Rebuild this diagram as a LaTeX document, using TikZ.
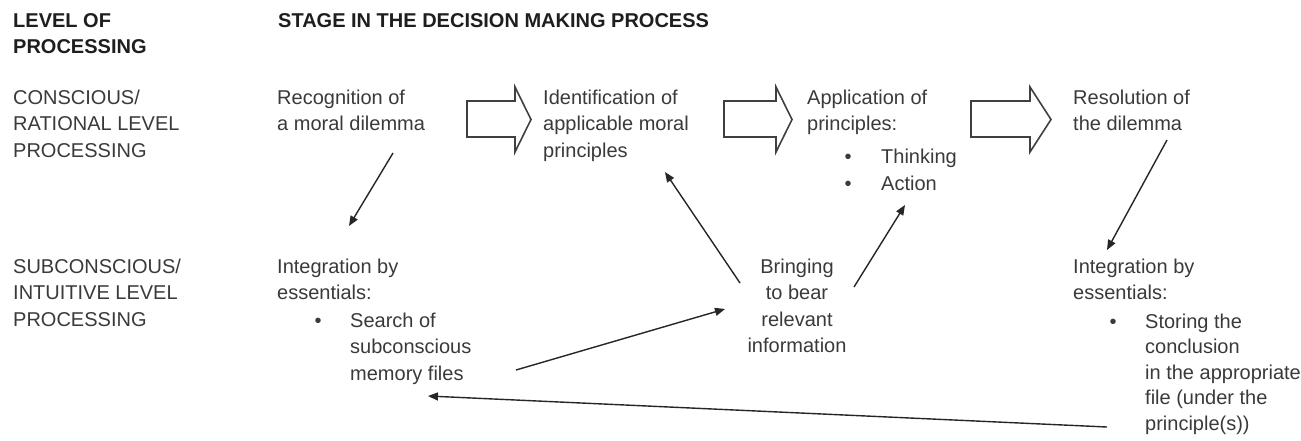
\documentclass[tikz,border=0pt]{standalone}
\usepackage{fontspec}
\setmainfont{Liberation Sans}
\usetikzlibrary{arrows.meta}
\definecolor{txtgray}{HTML}{3A3A3A}
\definecolor{hdr}{HTML}{1E1E1E}
\newcommand{\fsz}{\fontsize{20}{26.5}\selectfont}
\newcommand{\stt}{\rule{0pt}{16pt}}
\begin{document}
\begin{tikzpicture}[x=1pt,y=-1pt,
  txt/.style={anchor=north west, inner sep=0pt, align=left, font=\fsz, text=txtgray},
  hdrtxt/.style={txt, font=\fsz\bfseries, text=hdr},
  ctxt/.style={txt, anchor=north, align=center},
  conn/.style={draw=black!85, line width=1.4pt, -{Triangle[length=10pt,width=8pt]}},
  blockarrow/.style={draw=black!75, line width=1.6pt, line join=miter, fill=white}]
\useasboundingbox (0,0) rectangle (1301,440);
\fill[white] (0,0) rectangle (1301,440);

% headers
\node[hdrtxt] (lvlhdr) at (13,11) {\stt LEVEL OF\\PROCESSING};
\node[hdrtxt] (stagehdr) at (278,11) {\stt STAGE IN THE DECISION MAKING PROCESS};

% row labels
\node[txt] (conslbl) at (13,88) {\stt CONSCIOUS/\\RATIONAL LEVEL\\PROCESSING};
\node[txt] (subclbl) at (13,257) {\stt SUBCONSCIOUS/\\INTUITIVE LEVEL\\PROCESSING};

% conscious stages
\node[txt] (rec) at (277,88) {\stt Recognition of\\a moral dilemma};
\node[txt] (ident) at (543,88) {\stt Identification of\\applicable moral\\principles};
\node[txt] (appl) at (807,88) {\stt Application of\\principles:};
\node[txt, font=\fontsize{20}{27}\selectfont] (applbul) at (844.5,147) {\stt •\\•};
\node[txt, font=\fontsize{20}{27}\selectfont] (applitems) at (881,147) {\stt Thinking\\Action};
\node[txt] (reso) at (1073,88) {\stt Resolution of\\the dilemma};

% subconscious stages
\node[txt] (integL) at (277,257) {\stt Integration by\\essentials:};
\node[txt] (bulL) at (314.5,311) {\stt •};
\node[txt] (search) at (350,311) {\stt Search of\\subconscious\\memory files};
\node[ctxt] (bring) at (797,257) {\stt Bringing\\to bear\\relevant\\information};
\node[txt] (integR) at (1073,257) {\stt Integration by\\essentials:};
\node[txt] (bulR) at (1109.5,312) {\stt •};
\node[txt, font=\fontsize{20}{25.5}\selectfont] (store) at (1145,312) {\stt Storing the\\conclusion\\in the appropriate\\file (under the\\principle(s))};

% block arrows between stages
\draw[blockarrow] (467,101) -- (515,101) -- (515,87) -- (531,119.5) -- (515,152) -- (515,137) -- (467,137) -- cycle;
\draw[blockarrow] (724,101) -- (776,101) -- (776,87) -- (792,119.5) -- (776,152) -- (776,137) -- (724,137) -- cycle;
\draw[blockarrow] (971,101) -- (1030,101) -- (1030,87) -- (1051,119.5) -- (1030,152) -- (1030,137) -- (971,137) -- cycle;

% connector ends
\coordinate (recOut) at (393,153);
\coordinate (integLIn) at (349,226);
\coordinate (bringUL) at (740,283);
\coordinate (identIn) at (665,172);
\coordinate (bringUR) at (854,287);
\coordinate (actIn) at (905,205);
\coordinate (resoOut) at (1167,140);
\coordinate (integRIn) at (1107,250);
\coordinate (searchOut) at (516,370);
\coordinate (bringIn) at (725,309);
\coordinate (storeOut) at (1107,427);
\coordinate (searchIn) at (428,396);

\draw[conn] (recOut) -- (integLIn);
\draw[conn] (bringUL) -- (identIn);
\draw[conn] (bringUR) -- (actIn);
\draw[conn] (resoOut) -- (integRIn);
\draw[conn] (searchOut) -- (bringIn);
\draw[conn] (storeOut) -- (searchIn);
\end{tikzpicture}
\end{document}
